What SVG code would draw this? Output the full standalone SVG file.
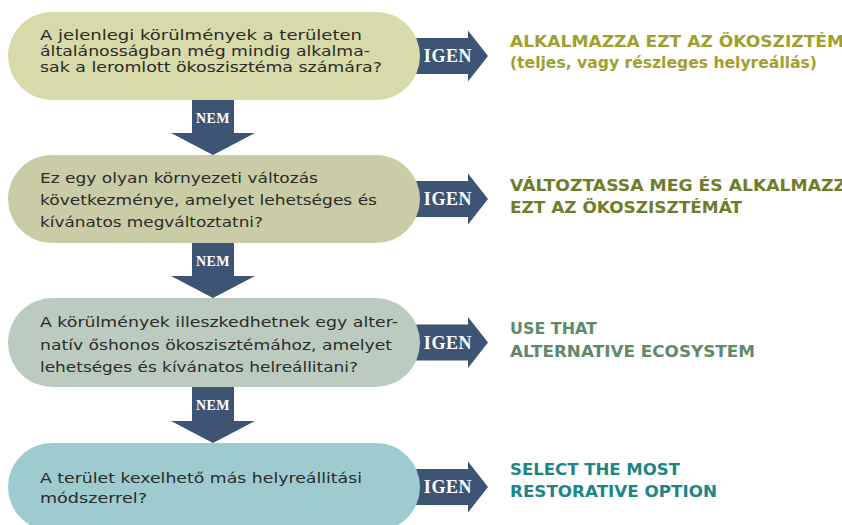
<svg xmlns="http://www.w3.org/2000/svg" width="842" height="525" viewBox="0 0 842 525">
<defs>
<style>
.q{font-family:"DejaVu Sans","Liberation Sans",sans-serif;font-size:14.5px;fill:#2b2b2b}
.r{font-family:"DejaVu Sans","Liberation Sans",sans-serif;font-weight:700;font-size:15.5px}
.lbl{font-family:"Liberation Serif",serif;font-weight:700;fill:#ffffff}
.ar{fill:#3d5475}
</style>
</defs>
<rect width="842" height="525" fill="#ffffff"/>
<g id="connectors">
<g id="nem1"><path class="ar" d="M192,95 H234 V133 H255 L213,155 L171,133 H192 Z"/><text class="lbl" x="213" y="123" font-size="14" text-anchor="middle" letter-spacing="0.5">NEM</text></g>
<g id="nem2"><path class="ar" d="M192,238 H234 V276 H255 L213,298 L171,276 H192 Z"/><text class="lbl" x="213" y="266" font-size="14" text-anchor="middle" letter-spacing="0.5">NEM</text></g>
<g id="nem3"><path class="ar" d="M192,382 H234 V421 H255 L213,443 L171,421 H192 Z"/><text class="lbl" x="213" y="410" font-size="14" text-anchor="middle" letter-spacing="0.5">NEM</text></g>
<g id="igen1"><path class="ar" d="M405,38 H468 V30.5 L488,56 L468,81.5 V74 H405 Z"/><text class="lbl" x="448" y="62" font-size="18" text-anchor="middle" letter-spacing="0.6">IGEN</text></g>
<g id="igen2"><path class="ar" d="M405,181 H468 V173.5 L488,199 L468,224.5 V217 H405 Z"/><text class="lbl" x="448" y="205" font-size="18" text-anchor="middle" letter-spacing="0.6">IGEN</text></g>
<g id="igen3"><path class="ar" d="M405,324.5 H468 V317 L488,342.5 L468,368 V360.5 H405 Z"/><text class="lbl" x="448" y="348.5" font-size="18" text-anchor="middle" letter-spacing="0.6">IGEN</text></g>
<g id="igen4"><path class="ar" d="M405,469 H468 V461.5 L488,487 L468,512.5 V505 H405 Z"/><text class="lbl" x="448" y="493" font-size="18" text-anchor="middle" letter-spacing="0.6">IGEN</text></g>
</g>
<g id="q1">
<rect x="8" y="12" width="412" height="88" rx="44" fill="#d8daa9"/>
<text class="q" x="40" y="40" textLength="322" lengthAdjust="spacingAndGlyphs">A jelenlegi körülmények a területen</text>
<text class="q" x="40" y="56" textLength="330" lengthAdjust="spacingAndGlyphs">általánosságban még mindig alkalma-</text>
<text class="q" x="40" y="72" textLength="342" lengthAdjust="spacingAndGlyphs">sak a leromlott ökoszisztéma számára?</text>
</g>
<g id="q2">
<rect x="8" y="155" width="412" height="88" rx="44" fill="#c9cca4"/>
<text class="q" x="40" y="183" textLength="278" lengthAdjust="spacingAndGlyphs">Ez egy olyan környezeti változás</text>
<text class="q" x="40" y="205" textLength="337" lengthAdjust="spacingAndGlyphs">következménye, amelyet lehetséges és</text>
<text class="q" x="40" y="226.5" textLength="223" lengthAdjust="spacingAndGlyphs">kívánatos megváltoztatni?</text>
</g>
<g id="q3">
<rect x="8" y="298" width="412" height="89" rx="44.5" fill="#bccbbf"/>
<text class="q" x="40" y="327" textLength="358" lengthAdjust="spacingAndGlyphs">A körülmények illeszkedhetnek egy alter-</text>
<text class="q" x="40" y="349.5" textLength="352" lengthAdjust="spacingAndGlyphs">natív őshonos ökoszisztémához, amelyet</text>
<text class="q" x="40" y="372" textLength="318" lengthAdjust="spacingAndGlyphs">lehetséges és kívánatos helreállitani?</text>
</g>
<g id="q4">
<rect x="8" y="443" width="412" height="88" rx="44" fill="#9ecbcf"/>
<text class="q" x="40" y="483" textLength="322" lengthAdjust="spacingAndGlyphs">A terület kexelhető más helyreállitási</text>
<text class="q" x="40" y="503" textLength="107" lengthAdjust="spacingAndGlyphs">módszerrel?</text>
</g>
<g id="a1" fill="#9fa02e">
<text class="r" x="510" y="47" textLength="334" lengthAdjust="spacingAndGlyphs">ALKALMAZZA EZT AZ ÖKOSZIZTÉM</text>
<text class="r" x="510" y="68" textLength="307" lengthAdjust="spacingAndGlyphs">(teljes, vagy részleges helyreállás)</text>
</g>
<g id="a2" fill="#6f7d2b">
<text class="r" x="510" y="191" textLength="336" lengthAdjust="spacingAndGlyphs">VÁLTOZTASSA MEG ÉS ALKALMAZZ</text>
<text class="r" x="510" y="213" textLength="232" lengthAdjust="spacingAndGlyphs">EZT AZ ÖKOSZISZTÉMÁT</text>
</g>
<g id="a3" fill="#5e8a6b">
<text class="r" x="510" y="334" textLength="87" lengthAdjust="spacingAndGlyphs">USE THAT</text>
<text class="r" x="510" y="357" textLength="245" lengthAdjust="spacingAndGlyphs">ALTERNATIVE ECOSYSTEM</text>
</g>
<g id="a4" fill="#1e8585">
<text class="r" x="510" y="475" textLength="170" lengthAdjust="spacingAndGlyphs">SELECT THE MOST</text>
<text class="r" x="510" y="497" textLength="207" lengthAdjust="spacingAndGlyphs">RESTORATIVE OPTION</text>
</g>
</svg>
